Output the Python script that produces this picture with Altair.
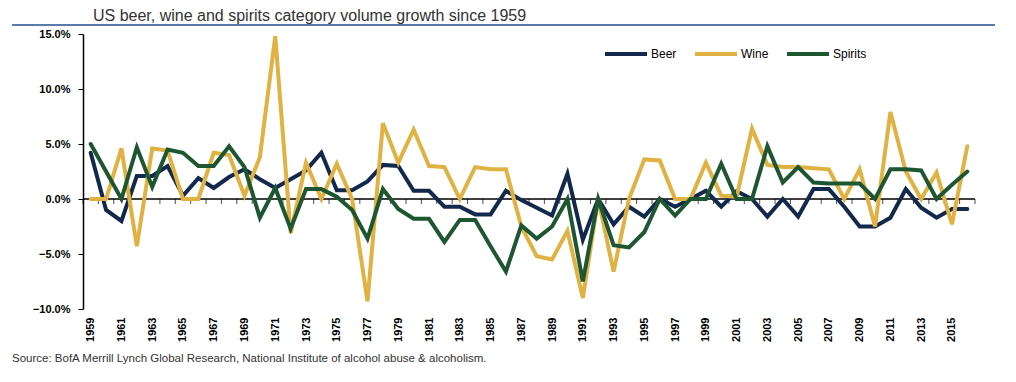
import altair as alt
import pandas as pd

years = list(range(1959, 2017))
beer = [4.2, -1.0, -2.0, 2.1, 2.1, 3.0, 0.3, 1.9, 1.0, 2.0,
        2.7, 1.8, 1.0, 1.8, 2.6, 4.2, 0.8, 0.8, 1.6, 3.1,
        3.0, 0.75, 0.75, -0.7, -0.7, -1.4, -1.4, 0.75, -0.1, -0.8,
        -1.5, 2.3, -3.7, 0.0, -2.3, -0.7, -1.6, 0.0, -0.7, 0.0,
        0.75, -0.7, 0.7, 0.0, -1.6, 0.0, -1.6, 0.9, 0.9, -0.7,
        -2.5, -2.5, -1.7, 0.9, -0.8, -1.7, -0.9, -0.9]
wine = [0.0, 0.0, 4.6, -4.3, 4.6, 4.4, 0.0, 0.0, 4.2, 4.0,
        0.3, 3.8, 14.8, -3.1, 3.3, 0.0, 3.2, 0.0, -9.3, 6.9,
        3.3, 6.3, 3.0, 2.9, 0.0, 2.9, 2.7, 2.7, -2.5, -5.2,
        -5.5, -2.9, -9.0, 0.0, -6.6, 0.0, 3.6, 3.5, 0.0, 0.0,
        3.3, 0.3, 0.2, 6.4, 3.1, 2.9, 2.9, 2.8, 2.7, 0.0,
        2.7, -2.5, 7.9, 2.5, 0.0, 2.4, -2.3, 4.8]
spirits = [5.0, 2.5, 0.0, 4.7, 1.1, 4.5, 4.2, 3.0, 3.0, 4.8,
           2.9, -1.7, 1.0, -2.7, 0.9, 0.9, 0.2, -1.0, -3.6, 0.9,
           -0.9, -1.8, -1.8, -3.9, -1.9, -1.9, -4.3, -6.6, -2.4, -3.6,
           -2.5, 0.0, -7.5, 0.0, -4.2, -4.4, -3.0, 0.0, -1.5, 0.0,
           0.0, 3.2, 0.0, 0.0, 4.8, 1.5, 2.9, 1.5, 1.4, 1.4,
           1.4, 0.0, 2.7, 2.7, 2.6, 0.0, 1.3, 2.5]
series = ["Beer", "Wine", "Spirits"]
colors = ["#13294b", "#dfb243", "#1e5631"]
x_labels = list(range(1959, 2016, 2))
y_ticks = [-10, -5, 0, 5, 10, 15]

title = "US beer, wine and spirits category volume growth since 1959"
source = "Source: BofA Merrill Lynch Global Research, National Institute of alcohol abuse & alcoholism."

rows = []
for name, vals in zip(series, [beer, wine, spirits]):
    for y, v in zip(years, vals):
        rows.append({"Year": y, "Series": name, "Growth": v})
df = pd.DataFrame(rows)

boundaries = pd.DataFrame({"Year": [y - 0.5 for y in years] + [years[-1] + 0.5], "Growth": 0})

W, H = 892, 275
FONT = "Liberation Sans"

xscale = alt.Scale(domain=[years[0] - 0.5, years[-1] + 0.5], nice=False, zero=False)
yscale = alt.Scale(domain=[-10, 15], nice=False)

xaxis = alt.Axis(
    values=x_labels, format="d", labelAngle=270, labelFont=FONT, labelFontWeight="bold",
    labelFontSize=11, labelColor="#000000", labelPadding=8, ticks=False, domain=False,
    grid=False, title=None, labelOverlap=False, labelSeparation=0,
)
yaxis = alt.Axis(
    values=y_ticks, labelExpr="format(datum.value/100, '.1%')", labelFont=FONT,
    labelFontWeight="bold", labelFontSize=11, labelColor="#000000", tickSize=5,
    tickColor="#000000", domainColor="#000000", domainWidth=1.5, labelPadding=8,
    grid=False, title=None,
)
base_x = alt.X("Year:Q", scale=xscale, axis=xaxis)
base_y = alt.Y("Growth:Q", scale=yscale, axis=yaxis)

color = alt.Color(
    "Series:N",
    scale=alt.Scale(domain=series, range=colors),
    legend=alt.Legend(
        title=None, orient="none", legendX=520, legendY=-3, direction="horizontal",
        symbolType="stroke", symbolSize=1764, symbolStrokeWidth=4,
        labelFont=FONT, labelFontSize=12, labelColor="#000000",
        columnPadding=10, labelOffset=2,
    ),
)

zero = alt.Chart(pd.DataFrame({"Growth": [0]})).mark_rule(color="#000000", strokeWidth=1.5).encode(
    y=base_y, x=alt.value(0), x2=alt.value(W)
)
ticks = alt.Chart(boundaries).mark_tick(orient="vertical", size=5, thickness=1, yOffset=2.5, color="#000000").encode(
    x=base_x, y=base_y,
)

layers = []
for name in series:
    layers.append(
        alt.Chart(df).transform_filter(alt.datum.Series == name)
        .mark_line(strokeWidth=4, strokeCap="round", strokeJoin="miter")
        .encode(x=base_x, y=base_y, color=color)
    )

title_text = alt.Chart(pd.DataFrame({"t": [title]})).mark_text(
    align="left", baseline="alphabetic", font=FONT, fontSize=16, color="#333333"
).encode(text="t:N", x=alt.value(10), y=alt.value(-13))

title_rule = alt.Chart(pd.DataFrame({"r": [0]})).mark_rule(color="#5b7ba8", strokeWidth=2).encode(
    x=alt.value(-71), x2=alt.value(917), y=alt.value(-9)
)

source_text = alt.Chart(pd.DataFrame({"s": [source]})).mark_text(
    align="left", baseline="alphabetic", font=FONT, fontSize=11.5, color="#333333"
).encode(text="s:N", x=alt.value(-71), y=alt.value(328))

chart = (
    alt.layer(zero, ticks, *layers, title_text, title_rule, source_text)
    .properties(
        width=W, height=H,
        autosize=alt.AutoSizeParams(type="none"),
        padding={"left": 75, "top": 26, "right": 20, "bottom": 60},
    )
    .configure(background="white")
    .configure_view(stroke=None)
    .configure_axisX(labelOverlap=False)
)

chart.save("out.html", embed_options={"renderer": "svg", "actions": False})
